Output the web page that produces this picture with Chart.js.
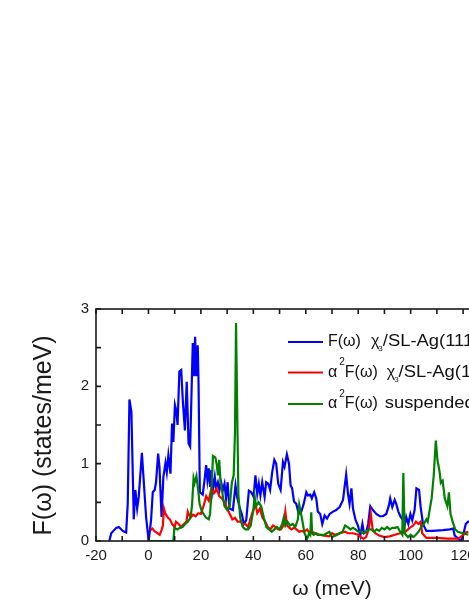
<!DOCTYPE html>
<html>
<head>
<meta charset="utf-8">
<script src="https://cdn.jsdelivr.net/npm/chart.js@4.4.0/dist/chart.umd.min.js"></script>
<style>
  html, body { margin: 0; padding: 0; background: #fff; overflow: hidden; width: 469px; height: 607px; }
  #wrap { width: 600px; height: 607px; }
</style>
</head>
<body>
<div id="wrap"><canvas id="dos" width="600" height="607"></canvas></div>
<script>
/* global Chart */

// phonon DOS F(w), chi3/SL-Ag(111)
const fdosW = [
  -14.9, -14.2, -12.3, -11.3, -9.8, -8.5, -7.9, -7.25, -6.5, -5.6,
  -5.0, -4.3, -3.7, -2.5, -1.9, -0.9, 0.1, 1.0, 1.65, 2.4,
  2.9, 3.7, 4.2, 5.0, 5.7, 6.5, 7.0, 7.6, 8.4, 9.0,
  9.5, 10.1, 10.6, 11.1, 11.8, 12.5, 13.1, 13.9, 14.6, 15.3,
  15.9, 16.3, 16.9, 17.3, 17.8, 18.2, 18.8, 19.1, 19.6, 20.7,
  21.4, 22.0, 22.5, 23.0, 23.5, 24.0, 24.6, 25.3, 25.8, 26.5,
  27.1, 27.7, 28.4, 29.0, 29.6, 30.2, 30.9, 32.2, 33.2, 33.8,
  34.7, 35.6, 36.4, 37.3, 38.3, 39.2, 40.1, 40.8, 41.5, 42.1,
  42.7, 43.4, 44.3, 44.9, 45.7, 46.4, 47.2, 48.0, 48.7, 49.5,
  50.4, 51.3, 51.9, 52.8, 53.6, 54.2, 54.8, 55.5, 56.4, 57.3,
  58.3, 59.2, 60.2, 60.8, 61.7, 62.3, 63.2, 64.0, 64.6, 65.5,
  66.3, 67.2, 68.1, 69.1, 70.4, 71.6, 72.9, 74.2, 74.8, 75.4,
  76.1, 76.7, 77.4, 78.0, 79.0, 79.9, 80.8, 81.6, 82.2, 83.1,
  83.8, 84.6, 85.6, 86.9, 88.2, 89.4, 90.7, 91.7, 92.2, 93.0,
  93.9, 94.5, 95.3, 96.2, 97.1, 97.7, 98.3, 99.1, 99.9, 100.6,
  101.5, 102.2, 103.2, 103.8, 104.7, 106.0, 108.5, 112.3, 114.9, 116.2,
  116.8, 118.1, 119.1, 120.0, 121.0, 121.9, 123.0
];
const fdosV = [
  0, 0.10, 0.17, 0.18, 0.13, 0.11, 0.48, 1.83, 1.67, 0.28,
  0.66, 0.42, 0.57, 1.14, 0.83, 0.31, 0, 0.27, 0.63, 0.66,
  0.76, 1.13, 0.96, 0.31, 0.83, 1.01, 0.89, 1.11, 0.87, 1.52,
  1.28, 1.76, 1.69, 1.50, 2.19, 2.21, 1.82, 1.43, 2.06, 1.26,
  1.22, 1.74, 2.56, 2.13, 2.64, 2.13, 2.53, 2.06, 0.63, 0.60,
  0.79, 0.98, 0.79, 0.94, 0.70, 0.92, 0.66, 0.83, 0.68, 0.76,
  0.66, 0.76, 0.66, 0.74, 0.55, 0.76, 0.42, 0.40, 0.72, 0.57,
  0.44, 0.35, 0.22, 0.27, 0.65, 0.63, 0.57, 0.85, 0.61, 0.74,
  0.59, 0.76, 0.57, 0.76, 0.74, 0.66, 0.89, 1.05, 1.00, 0.74,
  0.66, 1.02, 0.96, 1.12, 1.00, 0.72, 0.68, 0.51, 0.48, 0.35,
  0.38, 0.48, 0.63, 0.59, 0.60, 0.55, 0.63, 0.55, 0.38, 0.35,
  0.22, 0.33, 0.29, 0.35, 0.38, 0.40, 0.44, 0.53, 0.70, 0.86,
  0.61, 0.48, 0.68, 0.42, 0.27, 0.20, 0.07, 0.22, 0.10, 0.12,
  0.22, 0.45, 0.40, 0.35, 0.32, 0.32, 0.35, 0.46, 0.55, 0.44,
  0.53, 0.48, 0.38, 0.31, 0.27, 0.20, 0.31, 0.22, 0.35, 0.27,
  0.40, 0.68, 0.66, 0.44, 0.22, 0.13, 0.13, 0.14, 0.15, 0.16,
  0.07, 0.03, 0, 0.07, 0.22, 0.25, 0.25
];

// Eliashberg a2F(w), chi3/SL-Ag(111)
const a2fW = [
  0.8, 1.5, 2.5, 3.5, 4.3, 5.0, 5.5, 5.9, 6.5, 7.5,
  8.2, 9.0, 10.0, 10.5, 11.5, 12.5, 13.5, 14.5, 15.0, 16.0,
  17.0, 18.0, 19.0, 20.0, 21.0, 22.0, 23.0, 24.0, 25.0, 26.0,
  27.0, 28.0, 29.0, 30.0, 31.0, 32.0, 33.0, 34.0, 35.0, 36.0,
  37.0, 38.0, 39.0, 40.0, 40.8, 41.5, 42.5, 43.5, 44.5, 45.5,
  46.5, 47.5, 48.5, 49.5, 50.5, 51.5, 52.2, 52.8, 53.5, 54.5,
  55.5, 56.5, 57.5, 58.5, 59.5, 60.5, 61.5, 62.5, 63.5, 64.5,
  65.5, 67.0, 69.0, 70.0, 71.0, 73.0, 75.0, 76.0, 78.0, 80.0,
  81.0, 82.0, 83.0, 84.0, 84.8, 85.5, 86.5, 88.0, 90.0, 92.0,
  94.0, 96.0, 98.0, 99.0, 100.0, 101.0, 102.0, 103.0, 103.8, 104.4,
  106.0, 110.0, 114.0, 118.0, 119.0, 120.0, 121.0, 122.0
];
const a2fV = [
  0.14, 0.16, 0.12, 0.10, 0.08, 0.14, 0.20, 0.42, 0.35, 0.30,
  0.28, 0.22, 0.18, 0.25, 0.22, 0.18, 0.22, 0.25, 0.38, 0.30,
  0.34, 0.32, 0.36, 0.35, 0.45, 0.58, 0.52, 0.68, 0.62, 0.68,
  0.58, 0.55, 0.50, 0.42, 0.35, 0.28, 0.30, 0.25, 0.25, 0.22,
  0.22, 0.18, 0.30, 0.40, 0.48, 0.36, 0.42, 0.30, 0.25, 0.18,
  0.15, 0.20, 0.18, 0.15, 0.15, 0.20, 0.38, 0.20, 0.18, 0.15,
  0.17, 0.15, 0.12, 0.13, 0.12, 0.15, 0.10, 0.12, 0.10, 0.08,
  0.08, 0.07, 0.06, 0.10, 0.08, 0.10, 0.12, 0.10, 0.10, 0.08,
  0.05, 0.03, 0.05, 0.15, 0.35, 0.15, 0.10, 0.07, 0.05, 0.06,
  0.08, 0.10, 0.12, 0.15, 0.18, 0.20, 0.25, 0.22, 0.25, 0.10,
  0.04, 0.04, 0.03, 0.03, 0.05, 0.08, 0.11, 0.12
];

// a2F(w), suspended chi3
const a2fSusW = [
  0.8, 9.5, 9.9, 11.0, 12.0, 13.0, 14.0, 15.0, 16.0, 16.6,
  17.2, 17.6, 18.3, 19.0, 19.5, 20.2, 21.0, 22.0, 23.0, 23.5,
  24.0, 24.6, 25.5, 26.0, 26.5, 27.0, 27.5, 28.3, 29.0, 30.0,
  31.0, 31.8, 32.5, 33.0, 33.4, 33.8, 34.3, 35.0, 36.0, 37.0,
  38.0, 39.0, 40.0, 40.5, 41.0, 42.0, 43.0, 44.0, 45.0, 46.0,
  47.0, 48.0, 49.0, 50.0, 51.0, 51.6, 52.2, 53.0, 54.0, 55.0,
  56.0, 57.0, 57.5, 58.5, 59.5, 60.5, 61.3, 61.7, 62.1, 62.4,
  63.0, 64.0, 65.0, 67.0, 68.0, 69.0, 70.0, 72.0, 74.0, 75.0,
  76.0, 77.0, 78.0, 79.0, 80.0, 81.0, 82.0, 83.0, 84.0, 85.0,
  86.0, 87.0, 88.0, 89.0, 90.0, 91.0, 92.0, 93.0, 94.0, 95.0,
  96.0, 96.8, 97.2, 97.7, 99.0, 100.0, 101.0, 102.0, 103.0, 104.0,
  105.0, 106.0, 106.5, 107.0, 108.0, 108.8, 109.6, 110.2, 111.0, 111.5,
  112.2, 113.0, 114.0, 114.6, 115.2, 116.0, 117.0, 118.0, 120.0, 122.0
];
const a2fSusV = [
  0, 0, 0.17, 0.15, 0.17, 0.18, 0.22, 0.25, 0.30, 0.45,
  0.81, 0.75, 0.84, 0.65, 0.48, 0.40, 0.35, 0.30, 0.28, 0.35,
  0.60, 1.10, 1.08, 1.00, 0.85, 1.05, 0.75, 0.60, 0.45, 0.40,
  0.45, 0.75, 0.85, 1.40, 2.82, 1.80, 0.60, 0.30, 0.18, 0.15,
  0.15, 0.20, 0.40, 0.58, 0.45, 0.50, 0.45, 0.30, 0.18, 0.15,
  0.12, 0.15, 0.18, 0.15, 0.22, 0.30, 0.20, 0.25, 0.20, 0.22,
  0.18, 0.28, 0.47, 0.30, 0.10, 0.03, 0.10, 0.08, 0.37, 0.10,
  0.08, 0.10, 0.08, 0.08, 0.10, 0.12, 0.05, 0.08, 0.12, 0.20,
  0.18, 0.15, 0.17, 0.15, 0.12, 0.12, 0.10, 0.12, 0.15, 0.15,
  0.12, 0.15, 0.13, 0.17, 0.15, 0.18, 0.15, 0.17, 0.17, 0.18,
  0.12, 0.08, 0.88, 0.10, 0.05, 0.08, 0.05, 0.08, 0.12, 0.18,
  0.22, 0.28, 0.25, 0.35, 0.55, 0.85, 1.30, 1.05, 0.90, 0.75,
  0.78, 0.55, 0.45, 0.63, 0.35, 0.25, 0.15, 0.12, 0.10, 0.08
];

const xTicks = [-20, 0, 20, 40, 60, 80, 100, 120, 140, 160];
const yTicks = [0, 1, 2, 3];

const FONT = '"Liberation Sans", Arial, sans-serif';
const INK = "#1a1a1a";

const pts = (w, v) => w.map((x, i) => ({ x, y: v[i] }));

// frame with inward ticks on every side
const framePlugin = {
  id: "frame",
  afterDraw(chart) {
    const { ctx, chartArea: a, scales: { x, y } } = chart;
    ctx.save();
    ctx.strokeStyle = INK;
    ctx.lineWidth = 1.6;
    ctx.strokeRect(a.left, a.top, a.right - a.left, a.bottom - a.top);
    ctx.beginPath();
    for (let v = x.min; v <= x.max; v += 10) {
      const px = x.getPixelForValue(v);
      ctx.moveTo(px, a.top); ctx.lineTo(px, a.top + 5);
      ctx.moveTo(px, a.bottom); ctx.lineTo(px, a.bottom - 5);
    }
    for (let v = y.min; v <= y.max; v += 0.5) {
      const py = y.getPixelForValue(v);
      ctx.moveTo(a.left, py); ctx.lineTo(a.left + 5, py);
      ctx.moveTo(a.right, py); ctx.lineTo(a.right - 5, py);
    }
    ctx.stroke();
    ctx.restore();
  }
};

// legend with super/subscripts (latin runs are a bit wider in the original)
const legendRows = [
  [{ t: "F(ω)" }, { t: "χ", dx: 10 }, { t: "3", size: 8, dy: 7, dx: -1 }, { t: "/SL-Ag(111)", sx: 1.15 }],
  [{ t: "α" }, { t: "2", size: 10, dy: -10, dx: 2 }, { t: "F(ω)" }, { t: "χ", dx: 9 }, { t: "3", size: 8, dy: 7, dx: -1 }, { t: "/SL-Ag(111)", sx: 1.15 }],
  [{ t: "α" }, { t: "2", size: 10, dy: -10, dx: 2 }, { t: "F(ω)" }, { t: "suspended", dx: 7, sx: 1.15 }, { t: "χ", dx: 5 }, { t: "3", size: 8, dy: 7, dx: -1 }]
];
const legendY = [342, 372.5, 404];

const legendPlugin = {
  id: "richLegend",
  afterDraw(chart) {
    const { ctx } = chart;
    ctx.save();
    chart.data.datasets.forEach((ds, i) => {
      const yc = legendY[i];
      ctx.strokeStyle = ds.borderColor;
      ctx.lineWidth = 2;
      ctx.beginPath();
      ctx.moveTo(288, yc); ctx.lineTo(323, yc);
      ctx.stroke();
      let xc = 328;
      ctx.fillStyle = "#111";
      ctx.textBaseline = "middle";
      ctx.textAlign = "left";
      legendRows[i].forEach(p => {
        const sx = p.sx || 1;
        ctx.font = `${p.size || 16}px ${FONT}`;
        xc += p.dx || 0;
        ctx.save();
        ctx.translate(xc, yc + (p.dy || 0));
        ctx.scale(sx, 1);
        ctx.fillText(p.t, 0, 0);
        ctx.restore();
        xc += ctx.measureText(p.t).width * sx;
      });
    });
    ctx.restore();
  }
};

const line = (label, w, v, color, order) => ({
  label, data: pts(w, v), borderColor: color, backgroundColor: color,
  borderWidth: 2.2, pointRadius: 0, tension: 0, fill: false, order
});

new Chart(document.getElementById("dos").getContext("2d"), {
  type: "line",
  data: {
    datasets: [
      line("F(ω) χ3/SL-Ag(111)", fdosW, fdosV, "#0000ff", 2),
      line("α2F(ω) χ3/SL-Ag(111)", a2fW, a2fV, "#ff0000", 1),
      line("α2F(ω) suspended χ3", a2fSusW, a2fSusV, "#008000", 0)
    ]
  },
  options: {
    responsive: false,
    animation: false,
    layout: { padding: { top: 309, right: 32, left: 0, bottom: 0 } },
    plugins: { legend: { display: false }, tooltip: { enabled: false } },
    scales: {
      x: {
        type: "linear", min: -20, max: 160,
        grid: { display: false, drawTicks: false },
        border: { display: false },
        afterBuildTicks: s => { s.ticks = xTicks.map(value => ({ value })); },
        afterFit: s => { s.height = 66; },
        ticks: { padding: 6, color: INK, font: { family: FONT, size: 15 }, maxRotation: 0, autoSkip: false },
        title: { display: true, text: "ω (meV)", color: INK, font: { family: FONT, size: 21 }, padding: { top: 0, bottom: 5 } }
      },
      y: {
        min: 0, max: 3,
        grid: { display: false, drawTicks: false },
        border: { display: false },
        afterBuildTicks: s => { s.ticks = yTicks.map(value => ({ value })); },
        afterFit: s => { s.width = 96; },
        ticks: { padding: 7, color: INK, font: { family: FONT, size: 15 } },
        title: { display: true, text: "F(ω) (states/meV)   ", color: INK, font: { family: FONT, size: 25 }, padding: { top: 29, bottom: 0 } }
      }
    }
  },
  plugins: [framePlugin, legendPlugin]
});
</script>
</body>
</html>
